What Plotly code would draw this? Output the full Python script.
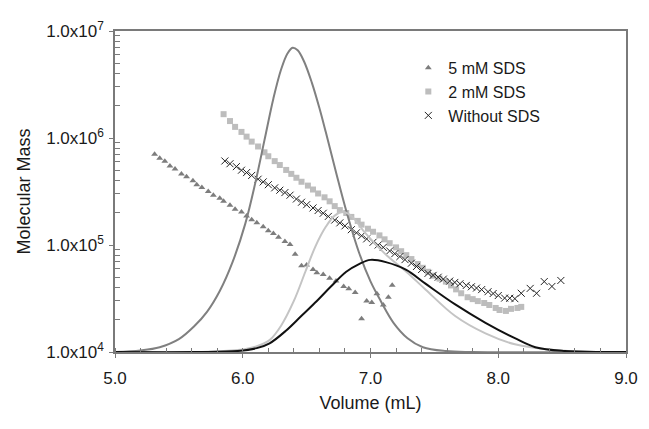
import plotly.graph_objects as go

# molecular mass points (Volume in mL, mass in g/mol)
vol_5mM = [5.31,5.35,5.39,5.43,5.47,5.52,5.56,5.61,5.64,5.68,5.73,5.77,5.82,5.85,5.90,
           5.94,5.99,6.03,6.07,6.11,6.16,6.20,6.24,6.28,6.33,6.37,6.41,6.46,6.50,6.55,
           6.58,6.63,6.68,6.73,6.79,6.83,6.88,6.93,6.97,7.01,7.05,7.10,7.14,7.17]
mass_5mM = [7.04e5,6.47e5,6.07e5,5.47e5,5.13e5,4.62e5,4.34e5,3.99e5,3.66e5,3.44e5,
            3.16e5,2.91e5,2.73e5,2.56e5,2.35e5,2.16e5,2.03e5,1.87e5,1.72e5,1.61e5,
            1.48e5,1.36e5,1.28e5,1.18e5,1.08e5,1.01e5,8.2e4,6.4e4,6.5e4,5.9e4,
            5.5e4,5.3e4,4.9e4,4.6e4,4.1e4,3.9e4,3.6e4,2.05e4,3.0e4,2.9e4,3.5e4,2.75e4,3.25e4,4.2e4]

vol_2mM = [5.85,5.90,5.94,5.99,6.03,6.07,6.12,6.17,6.20,6.25,6.29,6.34,6.38,6.42,6.46,
           6.51,6.55,6.59,6.64,6.68,6.72,6.76,6.81,6.85,6.90,6.93,6.98,7.02,7.07,7.11,
           7.15,7.20,7.24,7.28,7.32,7.37,7.41,7.45,7.49,7.54,7.59,7.63,7.67,7.71,7.76,
           7.80,7.84,7.89,7.93,7.98,8.01,8.06,8.10,8.15,8.18]
mass_2mM = [1.67e6,1.44e6,1.27e6,1.14e6,1.03e6,9.25e5,8.33e5,7.35e5,6.75e5,6.08e5,
            5.59e5,5.03e5,4.62e5,4.25e5,3.90e5,3.59e5,3.30e5,3.03e5,2.79e5,2.56e5,
            2.31e5,2.12e5,1.99e5,1.83e5,1.68e5,1.55e5,1.42e5,1.33e5,1.23e5,1.13e5,
            1.04e5,9.5e4,8.75e4,8.04e4,7.39e4,6.65e4,6.12e4,5.62e4,5.17e4,4.85e4,
            4.55e4,4.19e4,3.85e4,3.54e4,3.25e4,3.12e4,2.99e4,2.87e4,2.75e4,2.58e4,
            2.47e4,2.42e4,2.53e4,2.58e4,2.64e4]

vol_none = [5.86,5.90,5.95,5.99,6.03,6.07,6.12,6.16,6.20,6.25,6.29,6.33,6.37,6.42,6.46,
            6.50,6.55,6.59,6.63,6.67,6.72,6.76,6.80,6.85,6.89,6.93,6.97,7.02,7.06,7.10,
            7.15,7.19,7.23,7.27,7.32,7.36,7.40,7.45,7.49,7.53,7.57,7.62,7.66,7.70,7.75,
            7.79,7.83,7.87,7.92,7.96,8.00,8.05,8.09,8.13,8.18,8.25,8.30,8.36,8.42,8.49]
mass_none = [6.1e5,5.75e5,5.4e5,5.0e5,4.75e5,4.47e5,4.12e5,3.89e5,3.66e5,3.42e5,
             3.25e5,3.09e5,2.92e5,2.69e5,2.51e5,2.38e5,2.22e5,2.10e5,1.98e5,1.85e5,
             1.71e5,1.61e5,1.51e5,1.39e5,1.30e5,1.22e5,1.14e5,1.06e5,1.00e5,9.5e4,
             8.8e4,8.3e4,7.8e4,7.3e4,6.76e4,6.3e4,5.9e4,5.43e4,5.2e4,5.0e4,
             4.8e4,4.6e4,4.47e4,4.34e4,4.19e4,4.07e4,3.96e4,3.83e4,3.66e4,3.52e4,
             3.37e4,3.19e4,3.18e4,3.15e4,3.54e4,3.93e4,3.54e4,4.55e4,4.1e4,4.66e4]

# detector traces (relative signal, 0-100)
trace_5mM_x = [5.00,5.20,5.35,5.50,5.62,5.72,5.82,5.92,6.02,6.10,6.17,6.24,6.30,6.35,6.39,
               6.43,6.48,6.54,6.60,6.65,6.73,6.81,6.91,7.00,7.08,7.18,7.29,7.41,7.59,7.80,9.00]
trace_5mM_y = [0,0.5,1.5,4.0,8.0,12.5,19.0,28.0,40.0,53.0,66.0,79.0,88.0,93.0,94.8,
               94.0,90.5,84.0,76.0,68.5,56.0,44.0,31.0,22.0,15.9,9.1,4.3,1.5,0.3,0,0]

trace_2mM_x = [5.00,5.64,5.96,6.11,6.21,6.30,6.40,6.49,6.57,6.65,6.72,6.79,6.86,6.94,7.03,
               7.13,7.28,7.43,7.66,7.90,8.13,8.44,8.75,9.00]
trace_2mM_y = [0,0,0.6,1.8,3.7,8.2,15.9,25.0,33.0,39.0,42.5,43.6,42.0,38.0,34.0,
               30.0,25.0,19.5,11.3,5.8,2.4,0.6,0,0]

trace_none_x = [5.00,5.64,5.96,6.11,6.21,6.34,6.46,6.58,6.69,6.81,6.91,7.00,7.12,7.28,7.43,
                7.66,7.90,8.13,8.29,8.52,8.83,9.00]
trace_none_y = [0,0,0.3,1.2,2.7,6.7,11.3,15.9,20.4,25.0,27.4,28.7,28.0,25.6,21.3,
                14.9,9.1,4.3,1.5,0.3,0,0]

ytick_vals = [1e4, 1e5, 1e6, 1e7]
ytick_text = ["1.0x10<sup>4</sup>", "1.0x10<sup>5</sup>", "1.0x10<sup>6</sup>", "1.0x10<sup>7</sup>"]

font = "Liberation Sans, Arial, sans-serif"
axcol = "#7a7a7a"

fig = go.Figure()

# chromatogram curves on a hidden linear axis
for tx, ty, col in [(trace_5mM_x, trace_5mM_y, "#808080"),
                    (trace_2mM_x, trace_2mM_y, "#c4c4c4"),
                    (trace_none_x, trace_none_y, "#111111")]:
    fig.add_trace(go.Scatter(x=tx, y=ty, yaxis="y2", mode="lines",
                             line=dict(color=col, width=2, shape="spline", smoothing=1.0),
                             showlegend=False, hoverinfo="skip"))

fig.add_trace(go.Scatter(x=vol_5mM, y=mass_5mM, mode="markers", name="5 mM SDS",
                         marker=dict(symbol="triangle-up", size=6, color="#7d7d7d")))
fig.add_trace(go.Scatter(x=vol_2mM, y=mass_2mM, mode="markers", name="2 mM SDS",
                         marker=dict(symbol="square", size=6, color="#bdbdbd")))
fig.add_trace(go.Scatter(x=vol_none, y=mass_none, mode="markers", name="Without SDS",
                         marker=dict(symbol="x-thin", size=7, color="#222222",
                                     line=dict(width=1, color="#222222"))))

minor_y = [m * 10 ** e for e in (4, 5, 6) for m in range(2, 10)]

# the page body adds an 8px offset; keep the figure inside the window
fig.update_layout(
    width=641, height=413,
    margin=dict(l=107, r=11, t=16, b=59),
    paper_bgcolor="white", plot_bgcolor="white",
    font=dict(family=font, size=17, color="#1a1a1a"),
    xaxis=dict(range=[5, 9], dtick=1, tickformat=".1f",
               showline=True, linecolor=axcol, linewidth=1.5, mirror=True,
               ticks="outside", ticklen=4, tickcolor=axcol, ticklabelstandoff=6,
               ticklabeloverflow="allow",
               minor=dict(dtick=0.2, ticks="inside", ticklen=4, tickcolor=axcol),
               showgrid=False, zeroline=False,
               title=dict(text="Volume (mL)", font=dict(size=18), standoff=9)),
    yaxis=dict(type="log", range=[4, 7], tickmode="array",
               tickvals=ytick_vals, ticktext=ytick_text,
               showline=True, linecolor=axcol, linewidth=1.5, mirror=True,
               ticks="outside", ticklen=4, tickcolor=axcol, ticklabelstandoff=2,
               minor=dict(tickmode="array", tickvals=minor_y, ticks="inside",
                          ticklen=5, tickcolor=axcol),
               showgrid=False, zeroline=False,
               title=dict(text="Molecular Mass", font=dict(size=18), standoff=11)),
    yaxis2=dict(range=[0, 100], overlaying="y", visible=False),
    legend=dict(x=0.574, y=0.938, xanchor="left", yanchor="top",
                bgcolor="rgba(0,0,0,0)", font=dict(size=16), itemwidth=30),
    showlegend=True,
)

fig.write_html("out.html")
